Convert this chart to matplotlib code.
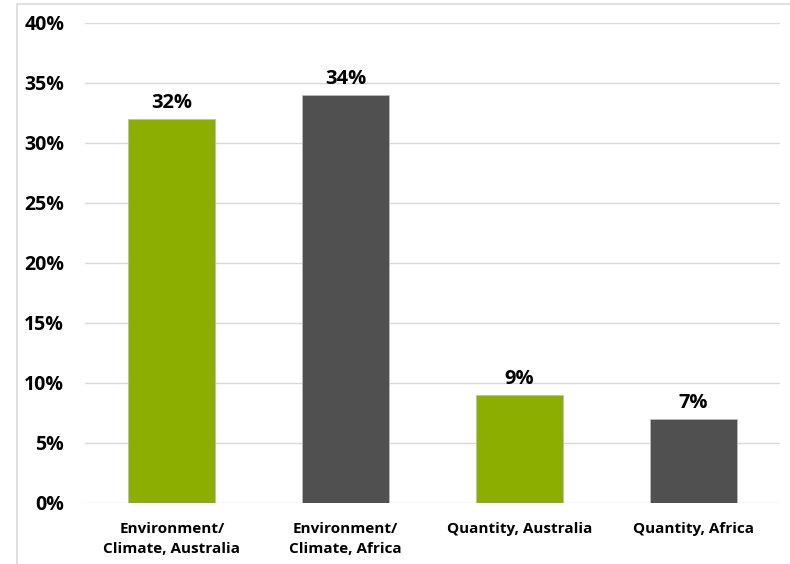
import matplotlib.pyplot as plt
from matplotlib.patches import Rectangle
from matplotlib.ticker import MultipleLocator, FuncFormatter

categories = ["Environment/\nClimate, Australia", "Environment/\nClimate, Africa",
              "Quantity, Australia", "Quantity, Africa"]
values = [32, 34, 9, 7]
colors = ["#8cae00", "#505050", "#8cae00", "#505050"]

plt.rcParams["font.family"] = ["Open Sans", "DejaVu Sans"]
plt.rcParams["font.weight"] = "bold"

fig = plt.figure(figsize=(7.9, 5.64), dpi=100)
ax = fig.add_axes([85 / 790, 61 / 564, 695 / 790, 480 / 564])

x = range(len(values))
bars = ax.bar(x, values, width=0.5, color=colors, edgecolor="#bbbbbb", linewidth=0.6, zorder=3)
for b, v in zip(bars, values):
    ax.annotate(f"{v}%", (b.get_x() + b.get_width() / 2, v), xytext=(0, 4),
                textcoords="offset points", ha="center", va="bottom",
                fontsize=14.5, fontweight="bold", color="black")

ax.set_xlim(-0.5, 3.5)
ax.set_ylim(0, 40)
ax.yaxis.set_major_locator(MultipleLocator(5))
ax.yaxis.set_major_formatter(FuncFormatter(lambda v, _: f"{v:.0f}%"))
ax.grid(axis="y", color="#d9d9d9", lw=1, zorder=0)
ax.set_xticks(list(x))
ax.set_xticklabels(categories, fontsize=11, fontweight="bold", linespacing=1.55)
ax.tick_params(axis="y", length=0, pad=15, labelsize=14)
ax.tick_params(axis="x", length=0, pad=14)
for lbl in ax.get_yticklabels():
    lbl.set_fontweight("bold")
for s in ax.spines.values():
    s.set_visible(False)

# chart-area border (cropped at right and bottom)
fig.patches.append(Rectangle((17 / 790, -0.1), 1.2, (564 - 4) / 564 + 0.1,
                             transform=fig.transFigure, fill=False,
                             edgecolor="#d9d9d9", lw=1.2))

fig.savefig("out.png", dpi=100)
